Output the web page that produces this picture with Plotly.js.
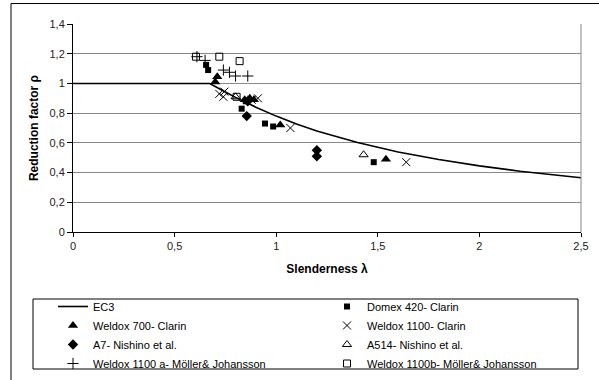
<!DOCTYPE html>
<html>
<head>
<meta charset="utf-8">
<script src="https://cdn.plot.ly/plotly-3.0.1.min.js"></script>
<style>
html,body{margin:0;padding:0;background:#fff;}
#chart{width:599px;height:380px;}
</style>
</head>
<body>
<div id="chart"></div>
<script>
// EC3 curve
const ec3X = [0, 0.673, 0.75, 0.8, 0.9, 1.0, 1.1, 1.2, 1.4, 1.6, 1.8, 2.0, 2.2, 2.5];
const ec3Y = [1, 1.0, 0.942, 0.906, 0.84, 0.78, 0.727, 0.68, 0.602, 0.539, 0.488, 0.445, 0.409, 0.365];

const domexX = [0.655, 0.665, 0.83, 0.85, 0.945, 0.985, 1.48];
const domexY = [1.125, 1.09, 0.83, 0.88, 0.73, 0.71, 0.47];

const w700X = [0.70, 0.71, 0.845, 0.87, 0.89, 1.02, 1.54];
const w700Y = [1.01, 1.045, 0.89, 0.90, 0.89, 0.72, 0.49];

const a7X = [0.855, 0.86, 1.20, 1.20];
const a7Y = [0.78, 0.88, 0.55, 0.51];

const w1100X = [0.72, 0.74, 0.745, 0.88, 0.91, 1.07, 1.64];
const w1100Y = [0.93, 0.91, 0.945, 0.89, 0.90, 0.70, 0.47];

const a514X = [0.80, 1.43];
const a514Y = [0.91, 0.52];

const w1100aX = [0.61, 0.65, 0.74, 0.77, 0.80, 0.86];
const w1100aY = [1.18, 1.155, 1.09, 1.075, 1.05, 1.05];

const w1100bX = [0.605, 0.72, 0.82, 0.805];
const w1100bY = [1.18, 1.18, 1.15, 0.91];

const names = ['EC3', 'Domex 420- Clarin', 'Weldox 700- Clarin', 'Weldox 1100- Clarin',
  'A7- Nishino et al.', 'A514- Nishino et al.', 'Weldox 1100 a- Möller& Johansson', 'Weldox 1100b- Möller& Johansson'];

function mk(x, y, name, symbol, size, lw) {
  return {x: x, y: y, name: name, type: 'scatter', mode: 'markers', cliponaxis: false,
    marker: {symbol: symbol, size: size, color: '#000', line: {color: '#000', width: lw}}};
}

const traces = [
  {x: ec3X, y: ec3Y, name: names[0], type: 'scatter', mode: 'lines', line: {color: '#000', width: 1.6}},
  mk(domexX, domexY, names[1], 'square', 6, 0),
  mk(w700X, w700Y, names[2], 'triangle-up', 9, 0),
  mk(w1100X, w1100Y, names[3], 'x-thin-open', 8, 1),
  mk(a7X, a7Y, names[4], 'diamond', 8, 0),
  mk(a514X, a514Y, names[5], 'triangle-up-open', 8, 1),
  mk(w1100aX, w1100aY, names[6], 'cross-thin-open', 8, 1),
  mk(w1100bX, w1100bY, names[7], 'square-open', 7, 1)
];

const L = 73, R = 581, T = 24, B = 232, W = 599, H = 380;
const px = v => (v - L) / (R - L);
const py = v => (B - v) / (B - T);

const layout = {
  width: W, height: H,
  margin: {l: L, r: W - R, t: T, b: H - B, pad: 0, autoexpand: false},
  paper_bgcolor: '#fff', plot_bgcolor: '#fff',
  separators: ', ',
  font: {family: 'Liberation Sans, Arial, sans-serif', size: 11, color: '#000'},
  showlegend: true,
  xaxis: {
    range: [0, 2.5], dtick: 0.5, tick0: 0, showgrid: false, zeroline: false,
    showline: true, linecolor: '#000', linewidth: 1,
    ticks: 'outside', ticklen: 4, tickcolor: '#000',
    tickfont: {size: 11, color: '#222'},
    title: {text: 'Slenderness λ', font: {size: 12, family: 'Liberation Sans, Arial, sans-serif', weight: 'bold'}, standoff: 13}
  },
  yaxis: {
    range: [0, 1.4], dtick: 0.2, tick0: 0, showgrid: true, gridcolor: '#888', gridwidth: 1,
    zeroline: false, showline: true, linecolor: '#000', linewidth: 1,
    ticks: 'outside', ticklen: 5, tickcolor: '#000',
    tickfont: {size: 11, color: '#222'},
    title: {text: 'Reduction factor ρ', font: {size: 12, family: 'Liberation Sans, Arial, sans-serif', weight: 'bold'}, standoff: 8}
  },
  legend: {
    orientation: 'h', x: px(53), xanchor: 'left', y: py(292), yanchor: 'top',
    entrywidth: 229, entrywidthmode: 'pixels', traceorder: 'normal',
    bgcolor: 'rgba(0,0,0,0)', borderwidth: 0, tracegroupgap: 0,
    font: {size: 11, color: '#000'}, itemclick: false
  },
  shapes: [
    {type: 'line', xref: 'paper', yref: 'paper', x0: 1, x1: 1, y0: 0, y1: 1, line: {color: '#888', width: 1}},
    {type: 'rect', xref: 'paper', yref: 'paper', x0: px(33), x1: px(578), y0: py(299), y1: py(369), line: {color: '#000', width: 1}},
    {type: 'rect', xref: 'paper', yref: 'paper', x0: px(11), x1: px(640), y0: py(3.5), y1: py(420), line: {color: '#000', width: 1}}
  ]
};

Plotly.newPlot('chart', traces, layout, {staticPlot: true, displayModeBar: false});
</script>
</body>
</html>
